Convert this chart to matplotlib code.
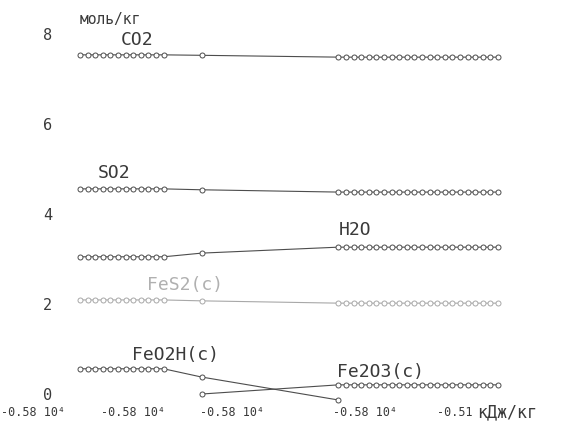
import matplotlib
matplotlib.use("Agg")
import matplotlib.pyplot as plt

# enthalpy steps: 12 points on the left, one in the middle, 22 on the right
x_left = [0, 1, 2, 3, 4, 5, 6, 7, 8, 9, 10, 11]
x_mid = [16]
x_right = [34, 35, 36, 37, 38, 39, 40, 41, 42, 43, 44,
           45, 46, 47, 48, 49, 50, 51, 52, 53, 54, 55]

# amounts, mol/kg: (left level, middle value, right level)
co2 = (7.52, 7.51, 7.47)
so2 = (4.60, 4.58, 4.53)
h2o = (3.12, 3.20, 3.33)
fes2 = (2.18, 2.16, 2.11)
feo2h_left, feo2h_mid, feo2h_end = 0.68, 0.50, 0.0
fe2o3_mid, fe2o3_right = 0.13, 0.33

ytick_vals = [0, 2, 4, 6, 8]
xtick_pos = [-6.2, 7.0, 20.0, 37.5]
xtick_labels = ["-0.58 10⁴", "-0.58 10⁴", "-0.58 10⁴", "-0.58 10⁴"]
last_xlabel = "-0.51"
x_unit = "кДж/кг"

MONO = ["DejaVu Sans Mono"]
INK = "#3a3a3a"
LINE = "#4d4d4d"


def series(ax, vals, color=LINE, ms=3.6):
    left, mid, right = vals
    xs = x_left + x_mid + x_right
    ys = [left] * len(x_left) + [mid] + [right] * len(x_right)
    ax.plot(xs, ys, "-", color=color, lw=0.8)
    ax.plot(xs, ys, "o", ms=ms, mfc="white", mec=color, mew=0.7)


fig = plt.figure(figsize=(5.72, 4.29), dpi=100)
ax = fig.add_axes([0, 0, 1, 1])
ax.set_xlim(-10.53, 64.74)
ax.set_ylim(-0.632, 8.715)
ax.axis("off")

series(ax, co2)
series(ax, so2)
series(ax, h2o)
series(ax, fes2, color="#a8a8a8")

# FeO2H(c) disappears, Fe2O3(c) appears
fx = x_left + x_mid + [x_right[0]]
fy = [feo2h_left] * len(x_left) + [feo2h_mid, feo2h_end]
ax.plot(fx, fy, "-", color=LINE, lw=0.8)
ax.plot(fx, fy, "o", ms=3.6, mfc="white", mec=LINE, mew=0.7)

gx = x_mid + x_right
gy = [fe2o3_mid] + [fe2o3_right] * len(x_right)
ax.plot(gx, gy, "-", color=LINE, lw=0.8)
ax.plot(gx, gy, "o", ms=3.6, mfc="white", mec=LINE, mew=0.7)

# species labels
lab = dict(family=MONO, fontsize=13, color=INK, ha="center", va="center")
ax.text(7.5, 7.84, "CO2", **lab)
ax.text(4.5, 4.95, "SO2", **lab)
ax.text(36.2, 3.70, "H2O", **lab)
ax.text(8.8, 2.50, "FeS2(c)", **dict(lab, color="#b0b0b0", ha="left"))
ax.text(12.6, 0.98, "FeO2H(c)", **lab)
ax.text(39.6, 0.61, "Fe2O3(c)", **lab)
ax.text(0, 8.3, "моль/кг", family=MONO, fontsize=10.5, color=INK,
        ha="left", va="center")

# axis labels
for v in ytick_vals:
    ax.text(-4.3, v + 0.1 - 0.02 * v, str(v), family=MONO, fontsize=11,
            color=INK, ha="center", va="center")
for xp, t in zip(xtick_pos, xtick_labels):
    ax.text(xp, -0.28, t, family=MONO, fontsize=8.5, color=INK,
            ha="center", va="center")
ax.text(47.0, -0.28, last_xlabel, family=MONO, fontsize=8.5, color=INK,
        ha="left", va="center")
ax.text(52.2, -0.28, x_unit, family=MONO, fontsize=12, color=INK,
        ha="left", va="center")

fig.savefig("out.png", dpi=100, facecolor="white")
